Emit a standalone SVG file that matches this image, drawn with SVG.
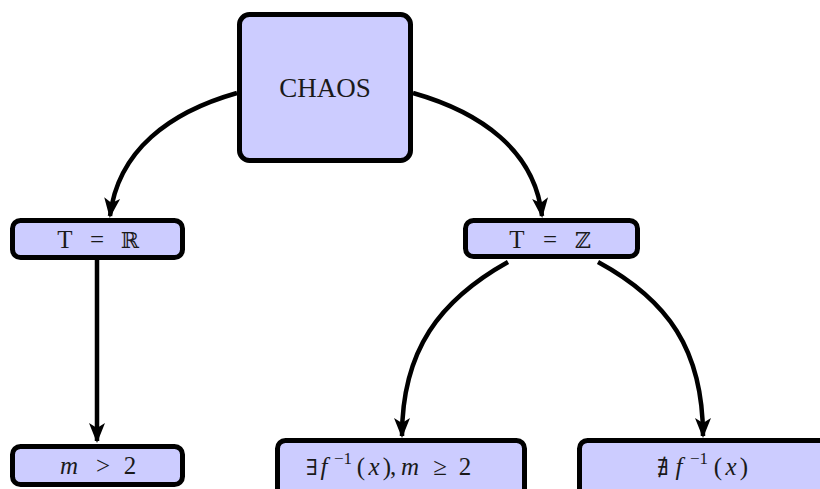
<svg xmlns="http://www.w3.org/2000/svg" width="820" height="489" viewBox="0 0 820 489">
<defs>
<marker id="arr" viewBox="-20 -9 22 18" refX="0" refY="0" markerWidth="22" markerHeight="18" markerUnits="userSpaceOnUse" orient="auto">
<path d="M2,0 L-18,-8 L-13,0 L-18,8 Z" fill="#000"/>
</marker>
<style>
.box{fill:#ccccff;stroke:#000;stroke-width:5}
.t{font-family:"Liberation Serif","DejaVu Serif",serif;font-size:25px;fill:#1a1a1a;text-anchor:middle}
.d{font-family:"DejaVu Serif","DejaVu Sans",serif}
.i{font-style:italic}
.s{font-size:17px}
.e{stroke:#000;stroke-width:4.5;fill:none;marker-end:url(#arr)}
</style>
</defs>
<rect width="820" height="489" fill="#fff"/>
<g id="edges">
<path class="e" d="M237,93 C170,112 118,150 110,216"/>
<path class="e" d="M413,93 C480,112 535,150 542,216"/>
<path class="e" d="M97,260 L97,441"/>
<path class="e" d="M508,262 C440,300 402,350 402,436"/>
<path class="e" d="M598,262 C668,300 703,350 703,436"/>
</g>
<g id="chaos">
<rect class="box" x="239.5" y="14.5" width="171" height="146" rx="10"/>
<text class="t" x="325" y="97" style="font-size:27px">CHAOS</text>
</g>
<g id="tR">
<rect class="box" x="12.5" y="220.5" width="170" height="37" rx="8"/>
<text class="t" x="65" y="248">T</text>
<text class="t" x="97" y="248">=</text>
<text class="t d" x="130" y="248" style="font-size:22px">ℝ</text>
</g>
<g id="tZ">
<rect class="box" x="465.5" y="220.5" width="172" height="36" rx="8"/>
<text class="t" x="517" y="248">T</text>
<text class="t" x="550" y="248">=</text>
<text class="t d" x="583" y="248" style="font-size:22px">ℤ</text>
</g>
<g id="m2">
<rect class="box" x="12.5" y="446.5" width="170" height="38" rx="8"/>
<text class="t i" x="69" y="474">m</text>
<text class="t" x="103" y="474">&gt;</text>
<text class="t" x="130" y="474">2</text>
</g>
<g id="exists">
<rect class="box" x="277.5" y="440.5" width="247" height="60" rx="8"/>
<text class="t d" x="312" y="475" style="font-size:22px">∃</text>
<text class="t i" x="324" y="475">f</text>
<text class="t s" x="343" y="464">−1</text>
<text class="t" x="361" y="475">(</text>
<text class="t i" x="374" y="475">x</text>
<text class="t" x="387" y="475">)</text>
<text class="t" x="393" y="475">,</text>
<text class="t i" x="410" y="475">m</text>
<text class="t" x="440" y="475">≥</text>
<text class="t" x="465" y="475">2</text>
</g>
<g id="nexists">
<rect class="box" x="579.5" y="440.5" width="260" height="60" rx="8"/>
<text class="t d" x="663" y="475" style="font-size:22px">∄</text>
<text class="t i" x="679" y="475">f</text>
<text class="t s" x="699" y="464">−1</text>
<text class="t" x="718" y="475">(</text>
<text class="t i" x="731" y="475">x</text>
<text class="t" x="744" y="475">)</text>
</g>
</svg>
